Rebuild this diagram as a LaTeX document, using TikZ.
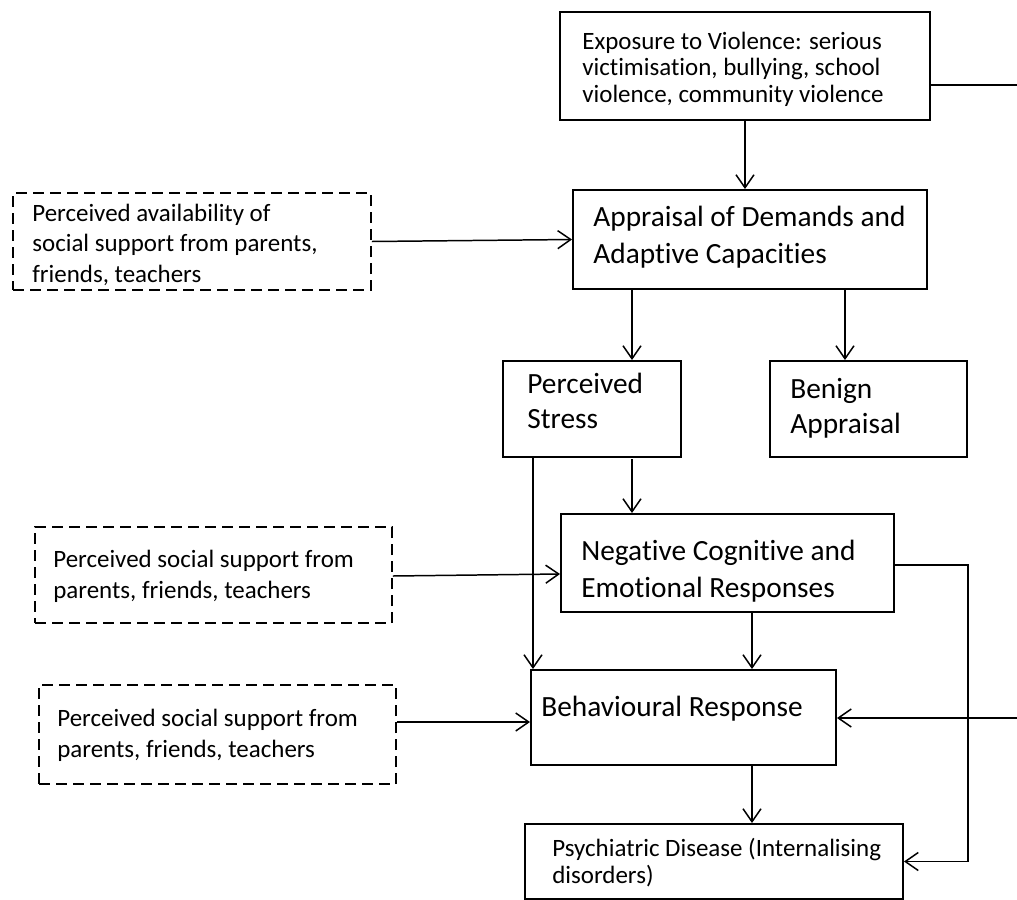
\documentclass[tikz,border=0pt]{standalone}
\usepackage{fontspec}
\setmainfont{Carlito}[Ligatures=NoCommon]
\usetikzlibrary{arrows.meta, fit}

\begin{document}
\begin{tikzpicture}[x=0.2mm, y=-0.2mm, >={Straight Barb[length=2.6mm,width=3.6mm]},
  box/.style={draw, line width=1.1pt, inner sep=0pt},
  dbox/.style={draw, line width=0.9pt, dash pattern=on 2.2mm off 1.2mm, inner sep=0pt},
  txt/.style={anchor=base west, align=left, inner sep=0pt},
  sm/.style={font=\fontsize{14.2pt}{#1}\selectfont},
  bg/.style={font=\fontsize{16.7pt}{#1}\selectfont},
  arr/.style={->, line width=0.85pt},
  ln/.style={line width=0.85pt}]
\useasboundingbox (0,0) rectangle (1017,900);

\node[box, fit={(560,12) (930,120)}] (expo) {};
\node[txt, sm=14.8pt] (expotxt) at (582,102) {Exposure to Violence: serious\\victimisation, bullying, school\\violence, community violence};

\node[box, fit={(573,190) (927,289)}] (appr) {};
\node[txt, bg=20.5pt] (apprtxt) at (593,263) {Appraisal of Demands and\\Adaptive Capacities};

\node[dbox, fit={(13,193) (371,290)}] (supp1) {};
\node[txt, sm=17.3pt] (supp1txt) at (32,282) {Perceived availability of\\social support from parents,\\friends, teachers};

\node[box, fit={(503,361) (681,457)}] (stress) {};
\node[txt, bg=19.9pt] (stresstxt) at (527,428) {Perceived\\Stress};

\node[box, fit={(770,361) (967,457)}] (benign) {};
\node[txt, bg=19.9pt] (benigntxt) at (790,433) {Benign\\Appraisal};

\node[box, fit={(561,514) (894,612)}] (neg) {};
\node[txt, bg=20.8pt] (negtxt) at (581,597) {Negative Cognitive and\\Emotional Responses};

\node[dbox, fit={(35,527) (392,623)}] (supp2) {};
\node[txt, sm=17.1pt] (supp2txt) at (53,598) {Perceived social support from\\parents, friends, teachers};

\node[box, fit={(531,670) (836,765)}] (behav) {};
\node[txt, bg=20pt] (behavtxt) at (541,716) {Behavioural Response};

\node[dbox, fit={(39,685) (396,784)}] (supp3) {};
\node[txt, sm=17.1pt] (supp3txt) at (57,757) {Perceived social support from\\parents, friends, teachers};

\node[box, fit={(525,824) (903,899)}] (psych) {};
\node[txt, sm=15pt] (psychtxt) at (552,883) {Psychiatric Disease (Internalising\\disorders)};

\coordinate (topedge) at (1017,85);
\coordinate (rightedge) at (1017,718);
\coordinate (loop) at (968,565);

\draw[ln] (expo.east |- topedge) -- (topedge);
\draw[arr] (745,0 |- expo.south) -- (745,0 |- appr.north);
\draw[arr] (supp1.east) -- (appr.west);
\draw[arr] (632,0 |- appr.south) -- (632,0 |- stress.north);
\draw[arr] (845,0 |- appr.south) -- (845,0 |- benign.north);
\draw[arr] (533,0 |- stress.south) -- (533,0 |- behav.north);
\draw[arr] (632,459) -- (632,0 |- neg.north);
\draw[arr] (supp2.east |- 0,576) -- (neg.west |- 0,574);
\draw[arr] (752,0 |- neg.south) -- (752,0 |- behav.north);
\draw[arr] (neg.east |- loop) -- (loop) |- (psych.east);
\draw[arr] (supp3.east |- 0,722) -- (behav.west |- 0,722);
\draw[arr] (rightedge) -- (behav.east |- rightedge);
\draw[arr] (752,0 |- behav.south) -- (752,0 |- psych.north);
\end{tikzpicture}
\end{document}
